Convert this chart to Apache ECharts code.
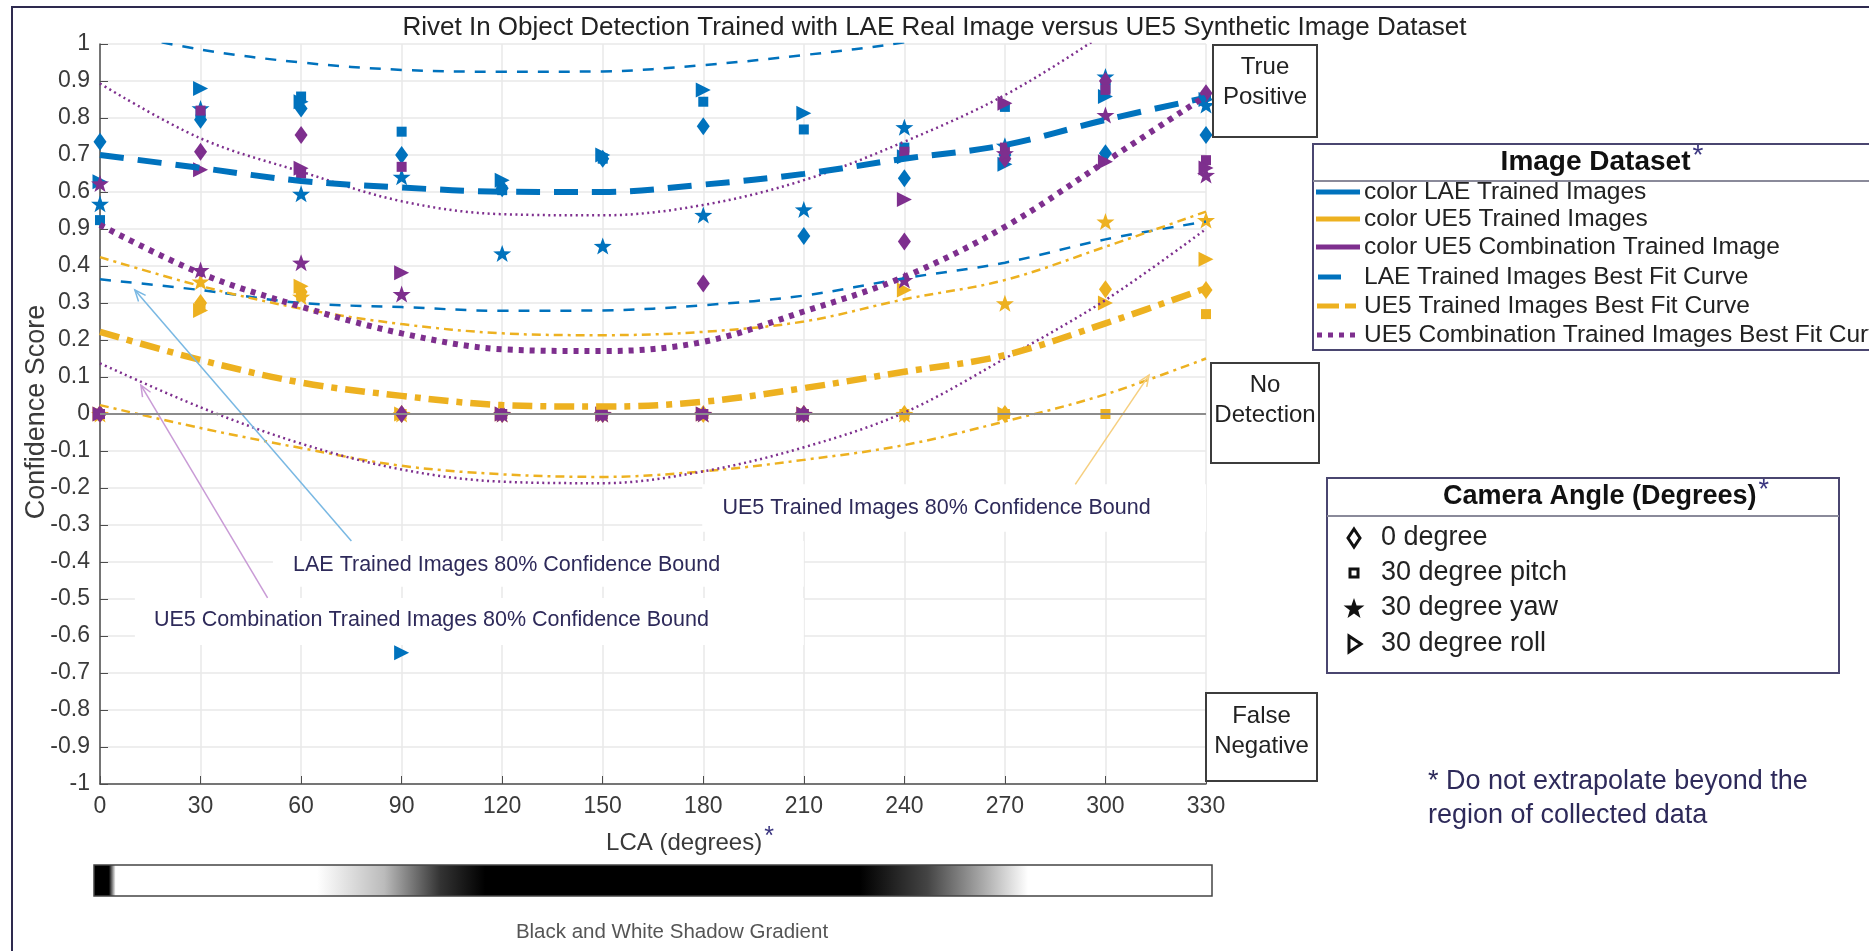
<!DOCTYPE html>
<html>
<head>
<meta charset="utf-8">
<script src="https://cdn.jsdelivr.net/npm/echarts@6/dist/echarts.min.js"></script>
<style>
html, body { margin: 0; padding: 0; background: #fff; }
#chart { width: 1869px; height: 951px; }
</style>
</head>
<body>
<div id="chart"></div>
<script>
// LCA angles on the x axis
const lcaAngles = [0, 30, 60, 90, 120, 150, 180, 210, 240, 270, 300, 330];
// y tick labels as printed, from -1 up to 1
const yTickLabels = ['-1', '-0.9', '-0.8', '-0.7', '-0.6', '-0.5', '-0.4', '-0.3', '-0.2', '-0.1', '0',
  '0.1', '0.2', '0.3', '0.4', '0.9', '0.6', '0.7', '0.8', '0.9', '1'];

// best fit curves and 80% bounds, read at every LCA angle
const laeFit = [0.70, 0.665, 0.63, 0.612, 0.601, 0.60, 0.62, 0.649, 0.69, 0.727, 0.795, 0.855];
const laeUpper = [1.04, 0.985, 0.95, 0.93, 0.925, 0.926, 0.943, 0.97, 1.005, 1.06, 1.13, 1.22];
const laeLower = [0.364, 0.335, 0.30, 0.289, 0.279, 0.28, 0.294, 0.32, 0.367, 0.409, 0.472, 0.52];
const ue5Fit = [0.222, 0.146, 0.085, 0.049, 0.024, 0.02, 0.033, 0.07, 0.114, 0.159, 0.245, 0.34];
const ue5Upper = [0.424, 0.346, 0.285, 0.243, 0.218, 0.213, 0.222, 0.25, 0.31, 0.362, 0.452, 0.547];
const ue5Lower = [0.024, -0.038, -0.092, -0.14, -0.163, -0.17, -0.155, -0.124, -0.084, -0.02, 0.053, 0.15];
const comboFit = [0.511, 0.38, 0.29, 0.218, 0.175, 0.17, 0.195, 0.277, 0.371, 0.506, 0.682, 0.86];
const comboUpper = [0.893, 0.745, 0.655, 0.575, 0.54, 0.537, 0.565, 0.632, 0.736, 0.862, 1.03, 1.22];
const comboLower = [0.137, 0.018, -0.08, -0.15, -0.183, -0.187, -0.155, -0.09, 0.004, 0.15, 0.308, 0.5];

// confidence scores per camera angle (one value per LCA angle)
const laeDiamond = [0.736, 0.795, 0.826, 0.70, 0.61, 0.69, 0.778, 0.481, 0.637, 0.70, 0.705, 0.754];
const laeSquare = [0.524, 0.81, 0.858, 0.763, 0.605, 0.69, 0.844, 0.769, 0.72, 0.83, 0.88, 0.86];
const laeStar = [0.568, 0.826, 0.595, 0.641, 0.434, 0.454, 0.538, 0.553, 0.775, 0.725, 0.912, 0.835];
const laeRoll = [0.628, 0.88, 0.844, -0.645, 0.632, 0.70, 0.876, 0.813, 0.695, 0.675, 0.858, 0.85];

const ue5Diamond = [0, 0.30, 0.33, 0, 0, 0, 0, 0, 0, 0, 0.337, 0.335];
const ue5Square = [0, 0.29, 0.32, 0, 0, 0, 0, 0, 0, 0, 0, 0.27];
const ue5Star = [0, 0.358, 0.317, 0, 0, 0, 0, 0, 0, 0.299, 0.52, 0.524];
const ue5Roll = [0, 0.28, 0.345, 0, 0, 0, 0, 0, 0.335, 0, 0.30, 0.418];

const comboDiamond = [0, 0.709, 0.754, 0, 0, 0, 0.353, 0, 0.466, 0.69, 0.90, 0.867];
const comboSquare = [0, 0.82, 0.65, 0.668, 0, 0, 0, 0, 0.709, 0.72, 0.876, 0.686];
const comboStar = [0.623, 0.389, 0.409, 0.324, 0, 0, 0, 0, 0.362, 0.705, 0.808, 0.646];
const comboRoll = [0, 0.66, 0.664, 0.382, 0, 0, 0, 0, 0.58, 0.84, 0.682, 0.665];

// shadow gradient under the x axis
const shadowStops = [[0, '#000'], [0.014, '#000'], [0.02, '#fff'], [0.2, '#fff'], [0.26, '#bbb'],
  [0.31, '#333'], [0.35, '#000'], [0.685, '#000'], [0.745, '#444'], [0.795, '#aaa'], [0.835, '#fff'], [1, '#fff']];

const BLUE = '#0072BD';
const ORANGE = '#EDB120';
const PURPLE = '#7E2F8E';
const NAVY = '#2e2a5a';
const FONT = "'Liberation Sans', Arial, Helvetica, sans-serif";
const STAR = 'path://M0,-10 L2.35,-3.24 L9.51,-3.09 L3.8,1.24 L5.88,8.09 L0,4 L-5.88,8.09 L-3.8,1.24 L-9.51,-3.09 L-2.35,-3.24 Z';

function pairs(values) {
  return lcaAngles.map((a, i) => [a, values[i]]);
}

function curve(values, color, width, dash) {
  return {
    type: 'line', data: pairs(values), smooth: 0.35, showSymbol: false, symbol: 'none',
    z: 3, silent: true, clip: true,
    lineStyle: { color: color, width: width, type: dash, cap: 'butt' }
  };
}

function points(values, color, shape, size, rotate) {
  return {
    type: 'scatter', data: pairs(values), symbol: shape, symbolSize: size,
    symbolRotate: rotate || 0, z: 2, silent: true,
    itemStyle: { color: color, opacity: 1 }
  };
}

function group(color, d, s, st, r) {
  return [
    points(d, color, 'diamond', [13, 18]),
    points(s, color, 'rect', 10),
    points(st, color, STAR, [18, 17]),
    points(r, color, 'triangle', [15, 15], -90)
  ];
}

const chart = echarts.init(document.getElementById('chart'));

const series = [].concat(
  group(BLUE, laeDiamond, laeSquare, laeStar, laeRoll),
  group(ORANGE, ue5Diamond, ue5Square, ue5Star, ue5Roll),
  group(PURPLE, comboDiamond, comboSquare, comboStar, comboRoll),
  [
    curve(laeUpper, BLUE, 2.5, [11, 10]),
    curve(laeLower, BLUE, 2.5, [11, 10]),
    curve(ue5Upper, ORANGE, 2.5, [9, 5, 3, 5]),
    curve(ue5Lower, ORANGE, 2.5, [9, 5, 3, 5]),
    curve(comboUpper, PURPLE, 2.5, [2, 3.5]),
    curve(comboLower, PURPLE, 2.5, [2, 3.5]),
    curve(laeFit, BLUE, 6, [24, 14]),
    curve(ue5Fit, ORANGE, 6.5, [20, 8, 6, 8]),
    curve(comboFit, PURPLE, 6, [5, 6])
  ]
);

// zero line (no detection level)
series[0].markLine = {
  silent: true, symbol: 'none', label: { show: false },
  lineStyle: { color: '#8c8c8c', width: 2, type: 'solid' },
  data: [{ yAxis: 0 }]
};

const option = {
  animation: false,
  backgroundColor: '#fff',
  title: {
    text: 'Rivet In Object Detection Trained with LAE Real Image versus UE5 Synthetic Image Dataset',
    left: 'center', top: 10,
    textStyle: { fontFamily: FONT, fontSize: 26, fontWeight: 'normal', color: '#222' }
  },
  grid: { left: 100, right: 663, top: 44, bottom: 167 },
  xAxis: {
    type: 'value', min: 0, max: 330, interval: 30,
    axisLine: { show: true, onZero: false, lineStyle: { color: '#4d4d4d', width: 1.5 } },
    axisTick: { show: true, inside: true, length: 8, lineStyle: { color: '#4d4d4d' } },
    axisLabel: { fontFamily: FONT, fontSize: 23, color: '#3a3a3a', margin: 11 },
    splitLine: { show: true, lineStyle: { color: '#e8e8e8', width: 1.5 } }
  },
  yAxis: {
    type: 'value', min: -1, max: 1, interval: 0.1,
    axisLine: { show: true, onZero: false, lineStyle: { color: '#4d4d4d', width: 1.5 } },
    axisTick: { show: true, inside: true, length: 8, lineStyle: { color: '#4d4d4d' } },
    axisLabel: {
      fontFamily: FONT, fontSize: 23, color: '#3a3a3a', margin: 10,
      formatter: v => yTickLabels[Math.round((v + 1) * 10)]
    },
    splitLine: { show: true, lineStyle: { color: '#e8e8e8', width: 1.5 } }
  },
  series: series
};

chart.setOption(option);

// ---- decorations: boxes, legends, notes, gradient ----
function text(x, y, str, size, extra) {
  return {
    type: 'text', z: 6,
    style: Object.assign({
      x: x, y: y, text: str, fontSize: size, fontFamily: FONT, fill: '#222',
      align: 'left', verticalAlign: 'middle'
    }, extra || {})
  };
}

function box(x, y, w, h, label, dy) {
  return [
    { type: 'rect', z: 5, shape: { x: x, y: y, width: w, height: h },
      style: { fill: '#fff', stroke: '#3c3c3c', lineWidth: 2 } },
    text(x + w / 2, y + h / 2 + dy, label, 24, { align: 'center', lineHeight: 30 })
  ];
}

function seg(x1, y, x2, color, width, dash) {
  return { type: 'line', z: 6, shape: { x1: x1, y1: y, x2: x2, y2: y },
    style: { stroke: color, lineWidth: width, lineDash: dash || null } };
}

function richTitle(x, y, str, size) {
  return {
    type: 'text', z: 6,
    style: {
      x: x, y: y, text: '{t|' + str + '}{s|*}', align: 'center', verticalAlign: 'middle',
      rich: {
        t: { fontSize: size, fontWeight: 'bold', fontFamily: FONT, fill: '#111' },
        s: { fontSize: size, fontFamily: FONT, fill: '#3b3680', padding: [0, 0, 12, 2] }
      }
    }
  };
}

function starPoints(cx, cy, r) {
  const pts = [];
  for (let i = 0; i < 10; i++) {
    const rr = i % 2 === 0 ? r : r * 0.4;
    const a = -Math.PI / 2 + i * Math.PI / 5;
    pts.push([cx + rr * Math.cos(a), cy + rr * Math.sin(a)]);
  }
  return pts;
}

const staticEls = [].concat(
  // outer figure frame
  [{ type: 'rect', z: 0, shape: { x: 12, y: 7, width: 2000, height: 1000 },
    style: { fill: null, stroke: '#2e2a4f', lineWidth: 2 } }],
  // y axis name
  [{ type: 'text', z: 6, x: 37, y: 412, rotation: Math.PI / 2,
    style: { x: 0, y: 0, text: 'Confidence Score', fontSize: 27, fontFamily: FONT, fill: '#3a3a3a',
      align: 'center', verticalAlign: 'middle' } }],
  box(1213, 45, 104, 92, 'True\nPositive', -9),
  box(1211, 363, 108, 100, 'No\nDetection', -13),
  box(1206, 693, 111, 88, 'False\nNegative', -6),

  // Image Dataset legend
  [{ type: 'rect', z: 5, shape: { x: 1313, y: 144, width: 700, height: 206 },
    style: { fill: '#fff', stroke: '#4a4670', lineWidth: 2 } },
   { type: 'line', z: 6, shape: { x1: 1313, y1: 181, x2: 1900, y2: 181 },
    style: { stroke: '#8a8a9a', lineWidth: 2 } },
   richTitle(1602, 162, 'Image Dataset', 28),
   seg(1316, 192, 1360, BLUE, 5),
   seg(1316, 219, 1360, ORANGE, 5),
   seg(1316, 247, 1360, PURPLE, 5),
   seg(1318, 277, 1341, BLUE, 5),
   seg(1317, 306, 1357, ORANGE, 5, [22, 6, 11, 100]),
   seg(1317, 335, 1357, PURPLE, 5, [5, 6]),
   text(1364, 192, 'color LAE Trained Images', 24.5),
   text(1364, 219, 'color UE5 Trained Images', 24.5),
   text(1364, 247, 'color UE5 Combination Trained Image', 24.5),
   text(1364, 277, 'LAE Trained Images Best Fit Curve', 24.5),
   text(1364, 306, 'UE5 Trained Images Best Fit Curve', 24.5),
   text(1364, 335, 'UE5 Combination Trained Images Best Fit Curve', 24.5)],

  // Camera Angle legend
  [{ type: 'rect', z: 5, shape: { x: 1327, y: 478, width: 512, height: 195 },
    style: { fill: '#fff', stroke: '#4a4670', lineWidth: 2 } },
   { type: 'line', z: 6, shape: { x1: 1327, y1: 516, x2: 1839, y2: 516 },
    style: { stroke: '#8a8a9a', lineWidth: 2 } },
   richTitle(1606, 497, 'Camera Angle (Degrees)', 27),
   { type: 'polygon', z: 6, shape: { points: [[1354, 529], [1360, 538], [1354, 547], [1348, 538]] },
    style: { fill: '#fff', stroke: '#111', lineWidth: 3 } },
   { type: 'rect', z: 6, shape: { x: 1350, y: 569, width: 8, height: 8 },
    style: { fill: '#fff', stroke: '#111', lineWidth: 3 } },
   { type: 'polygon', z: 6, shape: { points: starPoints(1354, 609, 11) },
    style: { fill: '#111' } },
   { type: 'polygon', z: 6, shape: { points: [[1349, 636], [1361, 644], [1349, 652]] },
    style: { fill: '#fff', stroke: '#111', lineWidth: 3 } },
   text(1381, 538, '0 degree', 27),
   text(1381, 573, '30 degree pitch', 27),
   text(1381, 608, '30 degree yaw', 27),
   text(1381, 644, '30 degree roll', 27)],

  // footnote
  [text(1428, 782, '* Do not extrapolate beyond the', 27, { fill: NAVY }),
   text(1428, 816, 'region of collected data', 27, { fill: NAVY })],

  // x axis name
  [{ type: 'text', z: 6, style: {
      x: 690, y: 843, text: '{t|LCA (degrees)}{s|*}', align: 'center', verticalAlign: 'middle',
      rich: {
        t: { fontSize: 24, fontFamily: FONT, fill: '#3a3a3a' },
        s: { fontSize: 25, fontFamily: FONT, fill: '#3b3680', padding: [0, 0, 12, 2] }
      } } }],

  // shadow gradient bar
  [{ type: 'rect', z: 5, shape: { x: 94, y: 865, width: 1118, height: 31 },
    style: {
      stroke: '#444', lineWidth: 1.5,
      fill: new echarts.graphic.LinearGradient(0, 0, 1, 0,
        shadowStops.map(s => ({ offset: s[0], color: s[1] })))
    } },
   text(672, 932, 'Black and White Shadow Gradient', 20.5, { align: 'center', fill: '#555' })]
);

// ---- annotations in data coordinates ----
const annotations = [
  { label: 'LAE Trained Images 80% Confidence Bound', box: [51.6, -0.343, 210, -0.467],
    at: [57.6, -0.409], from: [75, -0.343], to: [10.4, 0.335], color: '#79b8e3' },
  { label: 'UE5 Combination Trained Images 80% Confidence Bound', box: [10.4, -0.497, 210, -0.624],
    at: [16.1, -0.557], from: [50, -0.497], to: [12.2, 0.078], color: '#c99bd6' },
  { label: 'UE5 Trained Images 80% Confidence Bound', box: [179.7, -0.19, 330, -0.318],
    at: [185.7, -0.254], from: [291, -0.19], to: [313, 0.105], color: '#f6cf7f' }
];

function px(p) {
  return chart.convertToPixel({ gridIndex: 0 }, p);
}

const annotEls = [];
annotations.forEach(a => {
  const p0 = px([a.box[0], a.box[1]]);
  const p1 = px([a.box[2], a.box[3]]);
  annotEls.push({ type: 'rect', z: 1, shape: { x: p0[0], y: p0[1], width: p1[0] - p0[0], height: p1[1] - p0[1] },
    style: { fill: '#fff' } });
  const t = px(a.at);
  annotEls.push(text(t[0], t[1], a.label, 21.5, { fill: NAVY }));
  const f = px(a.from);
  const e = px(a.to);
  const ang = Math.atan2(e[1] - f[1], e[0] - f[0]);
  const L = 12;
  const h1 = [e[0] - L * Math.cos(ang - 0.4), e[1] - L * Math.sin(ang - 0.4)];
  const h2 = [e[0] - L * Math.cos(ang + 0.4), e[1] - L * Math.sin(ang + 0.4)];
  annotEls.push({ type: 'line', z: 4, shape: { x1: f[0], y1: f[1], x2: e[0], y2: e[1] },
    style: { stroke: a.color, lineWidth: 1.5 } });
  annotEls.push({ type: 'polyline', z: 4, shape: { points: [h1, e, h2] },
    style: { stroke: a.color, lineWidth: 1.5, fill: null } });
});

chart.setOption({ graphic: { elements: staticEls.concat(annotEls) } });
</script>
</body>
</html>
